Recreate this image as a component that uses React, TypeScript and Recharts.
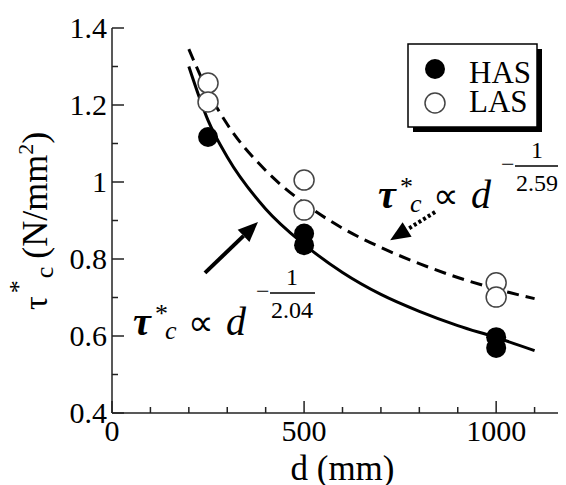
import React from 'react';
import { ComposedChart, Line, Scatter, XAxis, YAxis, ReferenceLine } from 'recharts';

const FONT = 'Liberation Serif';
const AXIS = '#222';
const txt = { fontFamily: FONT };

// axis ticks
const xTicks = [0, 100, 200, 300, 400, 500, 600, 700, 800, 900, 1000, 1100];
const yTicks = [0.4, 0.5, 0.6, 0.7, 0.8, 0.9, 1.0, 1.1, 1.2, 1.3, 1.4];

// measured points
const hasD = [250, 500, 500, 1000, 1000];
const hasV = [1.117, 0.866, 0.836, 0.597, 0.569];
const lasD = [250, 250, 500, 500, 1000, 1000];
const lasV = [1.257, 1.208, 1.005, 0.927, 0.738, 0.701];

// fitted curves
const fitD = [200, 250, 300, 400, 500, 600, 700, 800, 900, 1000, 1100];
const hasFitV = [1.3, 1.16, 1.065, 0.93, 0.838, 0.765, 0.708, 0.664, 0.627, 0.596, 0.562];
const lasFitV = [1.345, 1.235, 1.15, 1.03, 0.945, 0.88, 0.83, 0.788, 0.752, 0.722, 0.697];

const hasData = hasD.map((d, i) => ({ d, v: hasV[i] }));
const lasData = lasD.map((d, i) => ({ d, v: lasV[i] }));
const hasFit = fitD.map((d, i) => ({ d, v: hasFitV[i] }));
const lasFit = fitD.map((d, i) => ({ d, v: lasFitV[i] }));

const fmtY = (v: number) => (v === 1 ? '1' : String(v));
const isMajorY = (v: number) => Math.round(v * 10) % 2 === 0;
const isMajorX = (v: number) => v % 500 === 0;

const BottomTick = ({ x, y, payload }: any) => {
  const major = isMajorX(payload.value);
  return (
    <g>
      <line x1={x} y1={y} x2={x} y2={y - (major ? 12 : 6)} stroke={AXIS} strokeWidth={1.5} />
      {major && (
        <text x={x} y={y + 28} textAnchor="middle" fontSize={30} style={txt} fill="#000">
          {payload.value}
        </text>
      )}
    </g>
  );
};

const TopTick = ({ x, y, payload }: any) => (
  <line x1={x} y1={y} x2={x} y2={y + (isMajorX(payload.value) ? 12 : 6)} stroke={AXIS} strokeWidth={1.5} />
);

const LeftTick = ({ x, y, payload }: any) => {
  const major = isMajorY(payload.value);
  return (
    <g>
      <line x1={x} y1={y} x2={x + (major ? 12 : 6)} y2={y} stroke={AXIS} strokeWidth={1.5} />
      {major && (
        <text x={x - 5} y={y + 10} textAnchor="end" fontSize={30} style={txt} fill="#000">
          {fmtY(payload.value)}
        </text>
      )}
    </g>
  );
};

const RightTick = ({ x, y, payload }: any) => (
  <line x1={x} y1={y} x2={x - (isMajorY(payload.value) ? 12 : 6)} y2={y} stroke={AXIS} strokeWidth={1.5} />
);

const filledDot = (p: any) => <circle cx={p.cx} cy={p.cy} r={10} fill="#000" />;
const openDot = (p: any) => <circle cx={p.cx} cy={p.cy} r={10} fill="#fff" stroke="#444" strokeWidth={1.5} />;

// annotation arrow drawn between the two ends of a ReferenceLine segment
const arrow = (dotted: boolean) => (p: any) => {
  const { x1, y1, x2, y2 } = p;
  const a = Math.atan2(y2 - y1, x2 - x1);
  const L = 20;
  const W = 8.5;
  const bx = x2 - L * Math.cos(a);
  const by = y2 - L * Math.sin(a);
  return (
    <g>
      <line
        x1={x1}
        y1={y1}
        x2={bx}
        y2={by}
        stroke="#000"
        strokeWidth={4}
        strokeDasharray={dotted ? '3 2.5' : undefined}
      />
      <polygon
        points={`${x2},${y2} ${bx - W * Math.sin(a)},${by + W * Math.cos(a)} ${bx + W * Math.sin(a)},${by - W * Math.cos(a)}`}
        fill="#000"
      />
    </g>
  );
};

const Formula = ({ x, y, den }: { x: number; y: number; den: string }) => (
  <g style={txt} fill="#000">
    <text x={x} y={y} fontSize={40} fontWeight="bold" fontStyle="italic" style={txt}>τ</text>
    <text x={x + 22} y={y - 13} fontSize={26} style={txt}>*</text>
    <text x={x + 32} y={y + 4} fontSize={26} fontStyle="italic" style={txt}>c</text>
    <text x={x + 55} y={y} fontSize={36} style={txt}>∝</text>
    <text x={x + 93} y={y} fontSize={40} fontStyle="italic" style={txt}>d</text>
    <text x={x + 123} y={y - 36} fontSize={24} style={txt}>−</text>
    <line x1={x + 137} x2={x + 182} y1={y - 42} y2={y - 42} stroke="#000" strokeWidth={1.3} />
    <text x={x + 159} y={y - 50} fontSize={24} textAnchor="middle" style={txt}>1</text>
    <text x={x + 159} y={y - 17} fontSize={24} textAnchor="middle" style={txt}>{den}</text>
  </g>
);

const YLabel = () => (
  <text x={39} y={302} transform="rotate(-90 39 302)" style={txt} fill="#000">
    <tspan fontSize={34}>τ</tspan>
    <tspan fontSize={26} dy={-20} dx={3}>*</tspan>
    <tspan fontSize={26} dy={26} dx={2}>c</tspan>
    <tspan fontSize={36} dy={-6} dx={8}>(N/mm</tspan>
    <tspan fontSize={22} dy={-14}>2</tspan>
    <tspan fontSize={36} dy={14}>)</tspan>
  </text>
);

const XLabel = ({ viewBox }: any) => (
  <text
    x={viewBox.x + viewBox.width / 2}
    y={viewBox.y + 67}
    textAnchor="middle"
    fontSize={35}
    style={txt}
    fill="#000"
  >
    d (mm)
  </text>
);

const LegendBox = () => (
  <g style={txt} fill="#000">
    <rect x={405} y={41} width={129} height={83} fill="#000" />
    <rect x={400} y={36} width={129} height={83} fill="#fff" stroke="#000" strokeWidth={1.5} />
    <circle cx={427} cy={61} r={10} fill="#000" />
    <circle cx={427} cy={95} r={10} fill="#fff" stroke="#444" strokeWidth={1.5} />
    <text x={461} y={75} fontSize={31} style={txt}>HAS</text>
    <text x={461} y={104} fontSize={31} style={txt}>LAS</text>
  </g>
);

export default function App() {
  return (
    <div style={{ width: 558, height: 477, overflow: 'hidden', background: '#fff', fontFamily: FONT }}>
      <ComposedChart width={565} height={477} margin={{ top: 20, right: 0, bottom: 0, left: 0 }}>
        <XAxis
          xAxisId={0}
          type="number"
          dataKey="d"
          domain={[0, 1200]}
          ticks={xTicks}
          interval={0}
          tickSize={0}
          tickMargin={0}
          tickLine={false}
          tick={<BottomTick />}
          height={72}
          axisLine={{ stroke: AXIS, strokeWidth: 1.5 }}
          label={<XLabel />}
        />
        <XAxis
          xAxisId="top"
          orientation="top"
          type="number"
          domain={[0, 1200]}
          ticks={xTicks}
          interval={0}
          tickSize={0}
          tickMargin={0}
          tickLine={false}
          tick={<TopTick />}
          height={0}
          axisLine={{ stroke: AXIS, strokeWidth: 1.5 }}
        />
        <YAxis
          yAxisId={0}
          type="number"
          dataKey="v"
          domain={[0.4, 1.4]}
          ticks={yTicks}
          interval={0}
          tickSize={0}
          tickMargin={0}
          tickLine={false}
          tick={<LeftTick />}
          width={104}
          axisLine={{ stroke: AXIS, strokeWidth: 1.5 }}
          label={<YLabel />}
        />
        <YAxis
          yAxisId="right"
          orientation="right"
          type="number"
          domain={[0.4, 1.4]}
          ticks={yTicks}
          interval={0}
          tickSize={0}
          tickMargin={0}
          tickLine={false}
          tick={<RightTick />}
          width={0}
          axisLine={{ stroke: AXIS, strokeWidth: 1.5 }}
        />
        <Line
          data={lasFit}
          dataKey="v"
          type="monotone"
          stroke="#000"
          strokeWidth={3}
          strokeDasharray="12 7"
          dot={false}
          activeDot={false}
          isAnimationActive={false}
        />
        <Line
          data={hasFit}
          dataKey="v"
          type="monotone"
          stroke="#000"
          strokeWidth={3}
          dot={false}
          activeDot={false}
          isAnimationActive={false}
        />
        <Scatter data={lasData} dataKey="v" shape={openDot} isAnimationActive={false} />
        <Scatter data={hasData} dataKey="v" shape={filledDot} isAnimationActive={false} />
        <ReferenceLine segment={[{ x: 242, y: 0.764 }, { x: 380, y: 0.896 }]} shape={arrow(false)} />
        <ReferenceLine segment={[{ x: 841, y: 0.922 }, { x: 724, y: 0.849 }]} shape={arrow(true)} />
        <Formula x={125} y={327} den="2.04" />
        <Formula x={370} y={200} den="2.59" />
        <LegendBox />
      </ComposedChart>
    </div>
  );
}
